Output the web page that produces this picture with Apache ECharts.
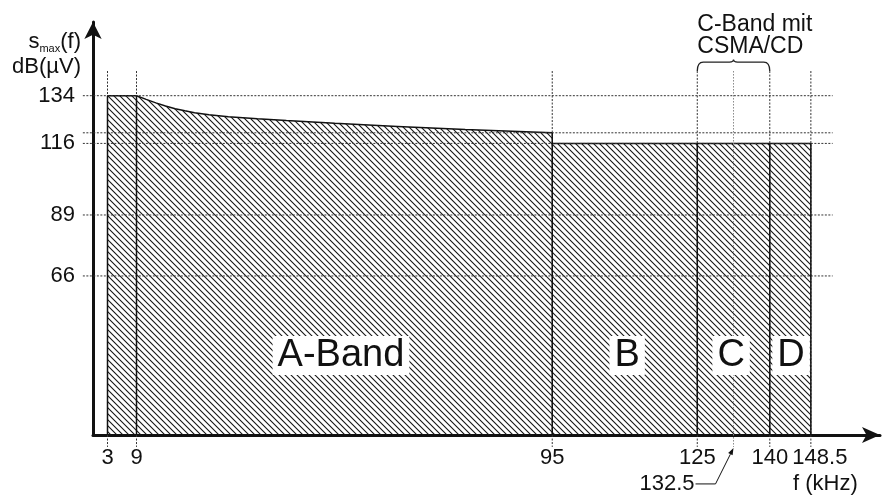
<!DOCTYPE html>
<html><head><meta charset="utf-8">
<script src="https://cdn.jsdelivr.net/npm/echarts@6/dist/echarts.min.js"></script>
<style>html,body{margin:0;padding:0;background:#fff}#c{width:883px;height:497px}</style>
</head><body><div id="c"></div>
<script>
// ---- data ----
const xTickValues = [3, 9, 95, 125, 140, 148.5];
const yTickValues = [66, 89, 116, 134];
const aBandLimit = [[3,134],[9,134],[11,132.6],[13,131.3],[15,130.1],[17,129.1],[19,128.3],[21,127.6],[24,126.8],[28,126.1],[34,125.3],[40,124.6],[50,123.6],[63,122.4],[77,121.2],[95,120]];
const bcdBandLimit = [[95,116],[148.5,116]];
const bandEdges = [[3,134],[9,134],[95,120],[125,116],[140,116],[148.5,116]];
const refLevels = [134, 120, 116, 89, 66];
const markerFreqs = [3, 9, 95, 125, 140, 148.5];
const cMidFreq = [132.5];
const cBandRange = [[125, 140]];
const bandLabels = [['A-Band',51.3,36],['B',110.5,36],['C',132,36],['D',144.4,36]];

// ---- layout constants ----
const X_MIN = 0, X_MAX = 162.8, Y_MIN = 6, Y_MAX = 161.8;
const H_LEFT = -2.1, H_RIGHT = 153;      // horizontal dashed extent (kHz)
const V_TOP = 143.3, V_BOTTOM = 1.5;     // vertical dashed extent (dB)
const FONT = '"Liberation Sans", Arial, Helvetica, sans-serif';

function makeHatch(){
  const c=document.createElement('canvas'); c.width=6; c.height=6;
  const g=c.getContext('2d'); g.strokeStyle='#141414'; g.lineWidth=1.1;
  for(const k of [-6,0,6]){ g.beginPath(); g.moveTo(k-1,-1); g.lineTo(k+7,7); g.stroke(); }
  return c;
}
const hatch = {image: makeHatch(), repeat: 'repeat'};
const dash = {stroke:'#333', lineWidth:1, lineDash:[2,1.5]};

const chart = echarts.init(document.getElementById('c'), null, {renderer:'canvas'});
chart.setOption({
  animation:false,
  backgroundColor:'#fff',
  grid:{left:93, right:3, top:22, bottom:62, containLabel:false, outerBoundsMode:'none'},
  xAxis:{type:'value', min:X_MIN, max:X_MAX,
    axisLine:{show:true, onZero:false, symbol:['none','arrow'], symbolSize:[12,18], lineStyle:{color:'#111', width:3}},
    axisTick:{show:false}, splitLine:{show:false},
    axisLabel:{customValues:xTickValues, color:'#111', fontSize:22, fontFamily:FONT, margin:12,
      formatter:v => v===148.5 ? '{r|148.5}' : String(v),
      rich:{r:{fontSize:22, fontFamily:FONT, color:'#111', padding:[0,0,0,18]}}}
  },
  yAxis:{type:'value', min:Y_MIN, max:Y_MAX,
    axisLine:{show:true, onZero:false, symbol:['none','arrow'], symbolSize:[13,17], lineStyle:{color:'#111', width:3}},
    axisTick:{show:false}, splitLine:{show:false},
    axisLabel:{customValues:yTickValues, color:'#111', fontSize:22, fontFamily:FONT, margin:18}
  },
  graphic:[
    {type:'text', x:81, y:42, style:{text:'{s|s}{sub|max}{s|(f)}', align:'right', verticalAlign:'middle',
      rich:{s:{fontSize:22, fontFamily:FONT, fill:'#111', lineHeight:24}, sub:{fontSize:11, fontFamily:FONT, fill:'#111', verticalAlign:'bottom', lineHeight:16}}}},
    {type:'text', x:81, y:67, style:{text:'dB(µV)', font:'22px '+FONT, fill:'#111', align:'right', verticalAlign:'middle'}},
    {type:'text', x:793, y:484, style:{text:'f (kHz)', font:'22px '+FONT, fill:'#111', align:'left', verticalAlign:'middle'}}
  ],
  series:[
    {type:'line', data:aBandLimit, showSymbol:false, symbol:'none', z:2,
      lineStyle:{color:'#111', width:1.5}, areaStyle:{color:hatch, opacity:1}},
    {type:'line', data:bcdBandLimit, showSymbol:false, symbol:'none', z:2,
      lineStyle:{color:'#111', width:1.5}, areaStyle:{color:hatch, opacity:1}},
    {type:'custom', z:3, data:refLevels.map(v=>[v]),
      renderItem:(p,api)=>{const a=api.coord([H_LEFT,api.value(0)]), b=api.coord([H_RIGHT,api.value(0)]);
        return {type:'line', shape:{x1:a[0],y1:a[1],x2:b[0],y2:b[1]}, style:dash};}},
    {type:'custom', z:3, data:markerFreqs.map(v=>[v]),
      renderItem:(p,api)=>{const a=api.coord([api.value(0),V_TOP]), b=api.coord([api.value(0),V_BOTTOM]);
        return {type:'line', shape:{x1:a[0],y1:a[1],x2:b[0],y2:b[1]}, style:dash};}},
    {type:'custom', z:3, data:cMidFreq.map(v=>[v]),
      renderItem:(p,api)=>{const a=api.coord([api.value(0),V_TOP]), b=api.coord([api.value(0),V_BOTTOM]);
        return {type:'line', shape:{x1:a[0],y1:a[1],x2:b[0],y2:b[1]}, style:{stroke:'#888', lineWidth:1, lineDash:[1.5,1.5]}};}},
    {type:'custom', z:4, data:bandEdges,
      renderItem:(p,api)=>{const a=api.coord([api.value(0),Y_MIN]), b=api.coord([api.value(0),api.value(1)]);
        return {type:'line', shape:{x1:a[0],y1:a[1],x2:b[0],y2:b[1]}, style:{stroke:'#111', lineWidth:1.5}};}},
    {type:'custom', z:5, data:bandLabels.map(d=>[d[1],d[2]]),
      renderItem:(p,api)=>{const c=api.coord([api.value(0),api.value(1)]);
        return {type:'text', x:c[0], y:c[1], style:{text:bandLabels[p.dataIndex][0], font:'38px '+FONT, fill:'#111',
          align:'center', verticalAlign:'middle', backgroundColor:'#fff', padding:[1,5,0,5], lineHeight:38}};}},
    {type:'custom', z:5, data:cBandRange,
      renderItem:(p,api)=>{const L=api.coord([api.value(0),V_TOP]), R=api.coord([api.value(1),V_TOP]);
        const top=L[1]-9, mid=(L[0]+R[0])/2, pk=top-2.5;
        const d=`M${L[0]},${L[1]} Q${L[0]},${top} ${L[0]+6},${top} L${mid-4},${top} Q${mid},${top} ${mid},${pk} Q${mid},${top} ${mid+4},${top} L${R[0]-6},${top} Q${R[0]},${top} ${R[0]},${L[1]}`;
        return {type:'group', children:[
          {type:'path', shape:{pathData:d}, style:{fill:'none', stroke:'#222', lineWidth:1.3}},
          {type:'text', x:L[0], y:top-4, style:{text:'C-Band mit\nCSMA/CD', font:'23px '+FONT, fill:'#111', align:'left', verticalAlign:'bottom', lineHeight:22}}
        ]};}},
    {type:'custom', z:5, data:cMidFreq.map(v=>[v]),
      renderItem:(p,api)=>{const t=api.coord([api.value(0),V_BOTTOM]);
        const tip=[t[0],t[1]+1], elbow=[tip[0]-18, tip[1]+36], end=[elbow[0]-20, elbow[1]];
        const dx=tip[0]-elbow[0], dy=tip[1]-elbow[1], n=Math.hypot(dx,dy), ux=dx/n, uy=dy/n;
        const bx=tip[0]-ux*7, by=tip[1]-uy*7;
        return {type:'group', children:[
          {type:'polyline', shape:{points:[end,elbow,[bx,by]]}, style:{stroke:'#111', lineWidth:1, fill:'none'}},
          {type:'polygon', shape:{points:[tip,[bx-uy*2.5,by+ux*2.5],[bx+uy*2.5,by-ux*2.5]]}, style:{fill:'#111'}},
          {type:'text', x:end[0]-1, y:end[1], style:{text:'132.5', font:'22px '+FONT, fill:'#111', align:'right', verticalAlign:'middle'}}
        ]};}}
  ]
});
</script></body></html>
